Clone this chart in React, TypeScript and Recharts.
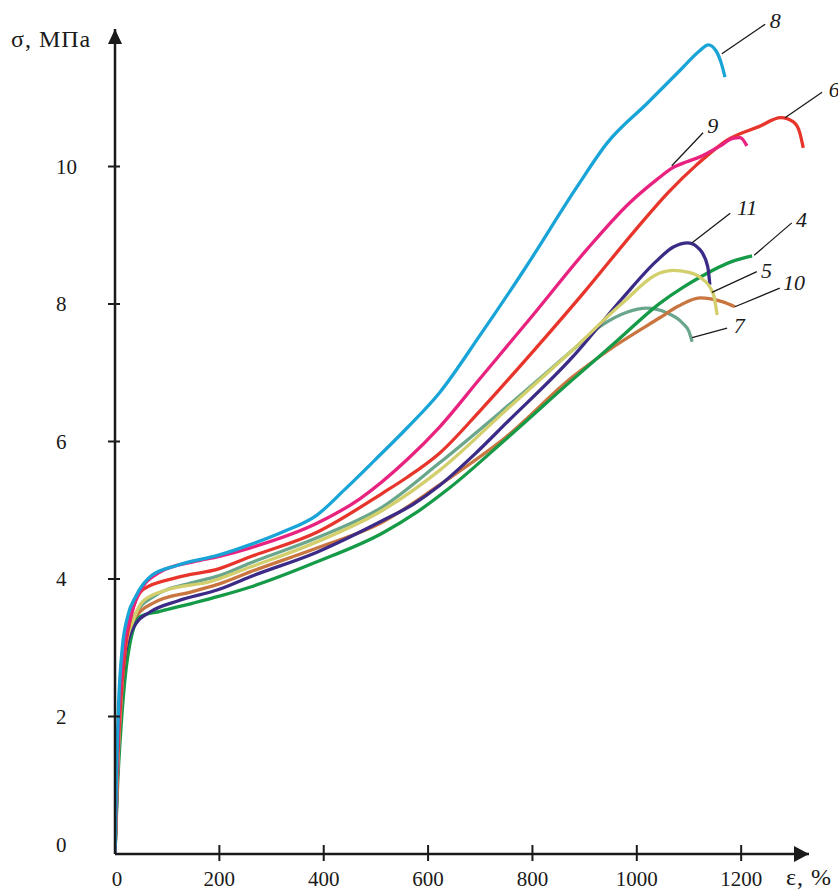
import { LineChart, Line, XAxis, YAxis, ReferenceDot, ReferenceLine } from "recharts";

// strain ε, % / stress σ, MPa for each sample curve
const curve4 = [[0, 0], [5, 1], [13, 2], [25, 2.9], [48, 3.45], [86, 3.53], [150, 3.65], [200, 3.75], [258, 3.88], [387, 4.25], [513, 4.67], [580, 4.98], [642, 5.33], [750, 6.04], [877, 6.9], [960, 7.45], [1044, 8.01], [1090, 8.25], [1121, 8.39], [1183, 8.62], [1221, 8.7]];
const curve5 = [[0, 0], [4, 1], [10, 2], [20, 3], [35, 3.4], [54, 3.68], [99, 3.84], [182, 3.96], [258, 4.17], [387, 4.54], [513, 5.0], [622, 5.58], [750, 6.46], [877, 7.33], [972, 8.01], [1044, 8.45], [1069, 8.49], [1100, 8.46], [1121, 8.39], [1146, 8.16], [1154, 7.84]];
const curve6 = [[0, 0], [4, 1.1], [10, 2.1], [20, 3], [30, 3.43], [54, 3.85], [118, 4.02], [200, 4.15], [258, 4.32], [387, 4.68], [513, 5.25], [560, 5.48], [622, 5.83], [700, 6.45], [800, 7.3], [900, 8.18], [1000, 9.1], [1060, 9.62], [1114, 10.02], [1177, 10.4], [1234, 10.58], [1276, 10.71], [1300, 10.65], [1312, 10.5], [1319, 10.27]];
const curve7 = [[0, 0], [4, 1], [10, 2], [20, 3], [40, 3.5], [73, 3.74], [150, 3.95], [200, 4.05], [258, 4.23], [387, 4.6], [513, 5.05], [622, 5.69], [750, 6.5], [877, 7.33], [929, 7.67], [981, 7.88], [1019, 7.94], [1058, 7.87], [1088, 7.72], [1100, 7.6], [1106, 7.45]];
const curve8 = [[0, 0], [3, 1.2], [7, 2.2], [14, 3], [24, 3.45], [40, 3.75], [70, 4.05], [120, 4.2], [200, 4.35], [259, 4.5], [320, 4.68], [387, 4.93], [440, 5.3], [498, 5.73], [560, 6.2], [622, 6.71], [700, 7.55], [786, 8.52], [885, 9.7], [943, 10.34], [1020, 10.92], [1083, 11.4], [1120, 11.68], [1137, 11.77], [1152, 11.68], [1162, 11.5], [1169, 11.3]];
const curve9 = [[0, 0], [3, 1.1], [8, 2.1], [17, 3], [28, 3.4], [45, 3.78], [86, 4.1], [150, 4.25], [200, 4.33], [258, 4.45], [387, 4.81], [470, 5.17], [559, 5.73], [622, 6.21], [700, 6.92], [800, 7.83], [904, 8.79], [986, 9.47], [1040, 9.82], [1066, 9.97], [1096, 10.07], [1121, 10.14], [1160, 10.3], [1184, 10.41], [1198, 10.42], [1211, 10.3]];
const curve10 = [[0, 0], [4, 1], [10, 2], [22, 3], [40, 3.45], [73, 3.65], [150, 3.82], [200, 3.93], [258, 4.1], [387, 4.45], [513, 4.83], [622, 5.37], [750, 6.07], [877, 6.94], [960, 7.4], [1044, 7.8], [1080, 7.97], [1121, 8.09], [1165, 8.03], [1188, 7.96]];
const curve11 = [[0, 0], [4, 1], [10, 2], [22, 3], [40, 3.35], [67, 3.52], [120, 3.68], [200, 3.85], [258, 4.03], [387, 4.39], [513, 4.85], [570, 5.08], [622, 5.36], [690, 5.82], [750, 6.27], [877, 7.23], [972, 8.08], [1037, 8.62], [1070, 8.83], [1098, 8.89], [1121, 8.79], [1136, 8.54], [1140, 8.28]];

const xTicks = [0, 200, 400, 600, 800, 1000, 1200];
const yTicks = [0, 2, 4, 6, 8, 10];

const series = [
  { name: "7", points: curve7, color: "#6aa68b" },
  { name: "10", points: curve10, color: "#c97540" },
  { name: "4", points: curve4, color: "#159a47" },
  { name: "11", points: curve11, color: "#3c2b86" },
  { name: "5", points: curve5, color: "#d3cf6c" },
  { name: "6", points: curve6, color: "#e8352b" },
  { name: "9", points: curve9, color: "#e8237f" },
  { name: "8", points: curve8, color: "#19a4d8" },
];

// leader lines: from curve point to label, in data units
const leaders = [
  { name: "8", from: [1163, 11.64], to: [1246, 12.07], at: [1255, 12.01] },
  { name: "6", from: [1284, 10.71], to: [1355, 11.08], at: [1368, 11.01] },
  { name: "9", from: [1067, 10.01], to: [1127, 10.49], at: [1135, 10.49] },
  { name: "11", from: [1106, 8.89], to: [1179, 9.32], at: [1192, 9.29] },
  { name: "4", from: [1225, 8.71], to: [1297, 9.18], at: [1305, 9.12] },
  { name: "5", from: [1144, 8.17], to: [1230, 8.47], at: [1238, 8.38] },
  { name: "10", from: [1188, 7.96], to: [1274, 8.23], at: [1280, 8.2] },
  { name: "7", from: [1106, 7.51], to: [1173, 7.65], at: [1186, 7.58] },
];

const FONT = '"Liberation Serif", "Times New Roman", serif';
const INK = "#1a1a1a";

const XTick = ({ x, y, payload }: any) => (
  <g>
    {payload.value !== 0 && <line x1={x} x2={x} y1={y - 9} y2={y + 7} stroke={INK} strokeWidth={2} />}
    <text x={payload.value === 0 ? x + 2 : x} y={y + 32} textAnchor="middle" fontFamily={FONT} fontSize={21} fill={INK}>
      {payload.value}
    </text>
  </g>
);

const YTick = ({ x, y, payload }: any) => (
  <g>
    {payload.value !== 0 && <line x1={x - 7} x2={x + 5} y1={y} y2={y} stroke={INK} strokeWidth={2} />}
    <text x={56} y={payload.value === 0 ? y - 2 : y + 7} textAnchor="start" fontFamily={FONT} fontSize={21} fill={INK}>
      {payload.value}
    </text>
  </g>
);

const YTitle = () => (
  <text x={11} y={47} fontFamily={FONT} fontSize={24} fill={INK} letterSpacing={1}>
    σ, МПа
  </text>
);

const XTitle = () => (
  <text x={786} y={885} fontFamily={FONT} fontSize={24} fill={INK} letterSpacing={1}>
    ε, %
  </text>
);

const UpArrow = ({ cx, cy }: any) => <path d={`M${cx},${cy} L${cx - 7},${cy + 15} L${cx + 7},${cy + 15} Z`} fill={INK} />;
const RightArrow = ({ cx, cy }: any) => <path d={`M${cx},${cy} L${cx - 15},${cy - 8} L${cx - 15},${cy + 8} Z`} fill={INK} />;

export default function App() {
  return (
    <div style={{ position: "absolute", left: 0, top: 0, background: "#fff" }}>
      <LineChart width={838} height={890} margin={{ top: 29, right: 29, left: 0, bottom: 0 }}>
        <XAxis
          type="number"
          dataKey="x"
          domain={[0, 1330]}
          ticks={xTicks}
          allowDataOverflow
          height={36}
          tickSize={0}
          tickMargin={0}
          tickLine={false}
          axisLine={{ stroke: INK, strokeWidth: 2.5 }}
          tick={<XTick />}
          label={<XTitle />}
        />
        <YAxis
          type="number"
          domain={[0, 12]}
          ticks={yTicks}
          allowDataOverflow
          width={115}
          tickSize={0}
          tickMargin={0}
          tickLine={false}
          axisLine={{ stroke: INK, strokeWidth: 2.5 }}
          tick={<YTick />}
          label={<YTitle />}
        />
        {series.map((s) => (
          <Line
            key={s.name}
            data={s.points.map(([x, y]) => ({ x, y }))}
            dataKey="y"
            type="monotone"
            stroke={s.color}
            strokeWidth={3.3}
            dot={false}
            activeDot={false}
            isAnimationActive={false}
          />
        ))}
        {leaders.map((l) => (
          <ReferenceLine
            key={"l" + l.name}
            segment={[{ x: l.from[0], y: l.from[1] }, { x: l.to[0], y: l.to[1] }]}
            stroke={INK}
            strokeWidth={1.3}
            ifOverflow="visible"
          />
        ))}
        {leaders.map((l) => (
          <ReferenceDot
            key={"t" + l.name}
            x={l.at[0]}
            y={l.at[1]}
            r={0}
            ifOverflow="visible"
            shape={(p: any) => (
              <text x={p.cx} y={p.cy} fontFamily={FONT} fontStyle="italic" fontSize={22} fill={INK}>
                {l.name}
              </text>
            )}
          />
        ))}
        <ReferenceDot x={0} y={12} r={0} ifOverflow="visible" shape={<UpArrow />} />
        <ReferenceDot x={1330} y={0} r={0} ifOverflow="visible" shape={<RightArrow />} />
      </LineChart>
    </div>
  );
}
